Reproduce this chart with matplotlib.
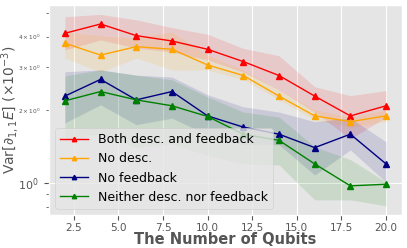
import numpy as np
import matplotlib
matplotlib.use("Agg")
import matplotlib.pyplot as plt

plt.style.use("ggplot")

qubits = [2, 4, 6, 8, 10, 12, 14, 16, 18, 20]

# mean values (x 10^-3)
both_mean = [4.13, 4.51, 4.04, 3.84, 3.55, 3.16, 2.77, 2.28, 1.89, 2.08]
nodesc_mean = [3.76, 3.36, 3.64, 3.55, 3.06, 2.77, 2.28, 1.89, 1.79, 1.89]
nofb_mean = [2.28, 2.67, 2.20, 2.38, 1.89, 1.70, 1.59, 1.40, 1.59, 1.20]
neither_mean = [2.18, 2.38, 2.20, 2.08, 1.88, 1.59, 1.50, 1.20, 0.975, 0.99]

# shaded band limits
both_hi = [4.83, 4.94, 4.69, 4.36, 4.09, 3.58, 3.34, 2.49, 2.29, 2.40]
both_lo = [3.53, 3.88, 3.59, 3.46, 3.21, 2.86, 2.42, 1.96, 1.52, 1.87]
nodesc_hi = [4.19, 4.03, 3.95, 4.18, 3.36, 2.92, 2.42, 2.00, 1.87, 2.00]
nodesc_lo = [3.27, 2.86, 3.27, 2.92, 2.92, 2.66, 2.20, 1.82, 1.70, 1.79]
nofb_hi = [2.87, 2.92, 2.78, 2.73, 2.31, 2.06, 1.96, 1.79, 1.85, 1.48]
nofb_lo = [1.77, 2.10, 1.74, 1.85, 1.58, 1.44, 1.44, 1.08, 1.37, 1.01]
neither_hi = [2.76, 2.92, 2.78, 2.66, 2.26, 1.96, 1.87, 1.41, 1.25, 1.01]
neither_lo = [1.50, 1.60, 1.40, 1.45, 1.30, 1.20, 1.19, 0.854, 0.854, 0.807]

series = [
    ("Both desc. and feedback", "red", both_mean, both_lo, both_hi),
    ("No desc.", "orange", nodesc_mean, nodesc_lo, nodesc_hi),
    ("No feedback", "navy", nofb_mean, nofb_lo, nofb_hi),
    ("Neither desc. nor feedback", "green", neither_mean, neither_lo, neither_hi),
]

fig, ax = plt.subplots(figsize=(4.07, 2.48), dpi=100)
fig.subplots_adjust(left=0.12, right=0.988, bottom=0.133, top=0.98)

for label, color, mean, lo, hi in series:
    ax.plot(qubits, mean, color=color, marker="^", markersize=4, linewidth=1, label=label)
    ax.fill_between(qubits, lo, hi, color=color, alpha=0.12, linewidth=0)

ax.set_yscale("log")
ax.set_ylim(0.74, 5.4)
ax.set_xlim(1.1, 20.9)

ax.tick_params(axis="x", labelsize=7.5, pad=2)
ax.tick_params(axis="y", which="major", labelsize=8)
ax.tick_params(axis="y", which="minor", labelsize=4.2)

ax.set_xlabel("The Number of Qubits", fontsize=10.5, fontweight="bold")
ax.xaxis.set_label_coords(0.5, -0.083)
ax.set_ylabel(r"Var$[\partial_{1,1}E]$ $(\times 10^{-3})$", fontsize=10)
ax.yaxis.set_label_coords(-0.08, 0.5)

ax.legend(loc="lower left", fontsize=9, handlelength=2.2, borderaxespad=0.5,
          markerscale=0.8)

fig.savefig("out.png", dpi=100)
